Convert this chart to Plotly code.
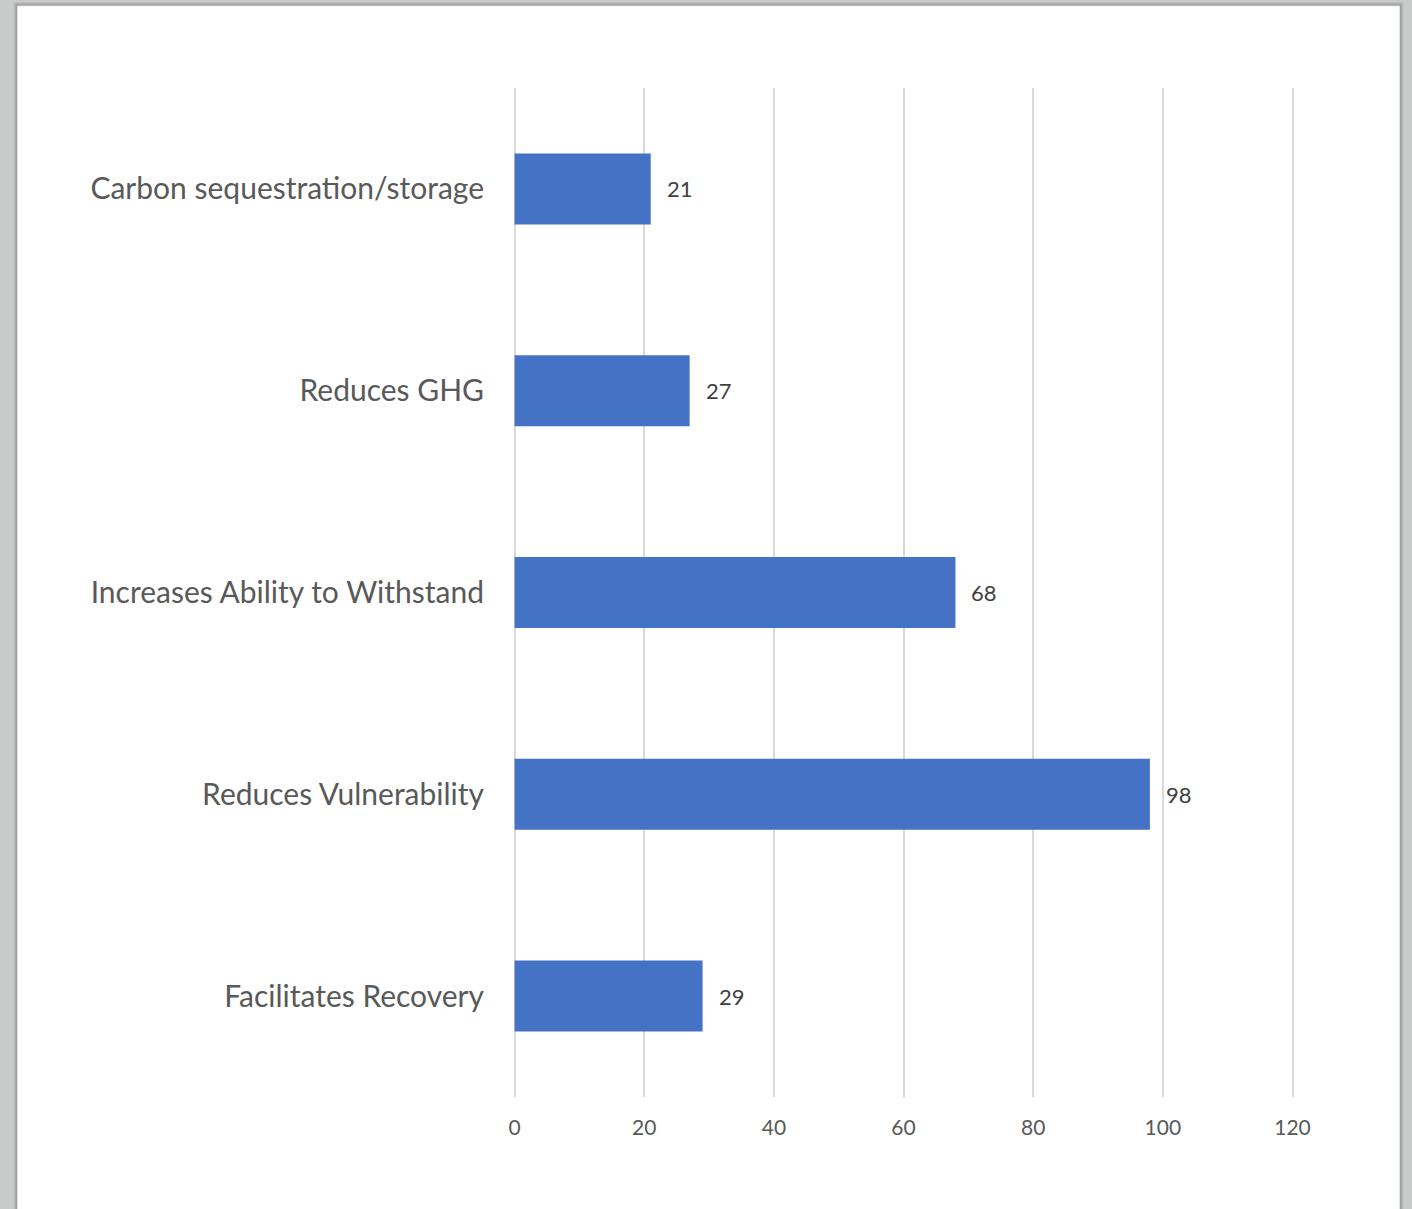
import plotly.graph_objects as go

categories = ["Carbon sequestration/storage", "Reduces GHG", "Increases Ability to Withstand",
              "Reduces Vulnerability", "Facilitates Recovery"]
values = [21, 27, 68, 98, 29]
x_ticks = [0, 20, 40, 60, 80, 100, 120]
x_min, x_max = -0.4, 121

W, H = 1412, 1209
scale = (1293 - 515) / 120  # px per unit
L = 515 + x_min * scale
R = 515 + x_max * scale
T, B = 88, 1097
pw, ph = R - L, B - T

def px(xp):
    return (xp - L) / pw

def py(yp):
    return (B - yp) / ph

fig = go.Figure()
fig.add_trace(go.Bar(
    y=categories, x=values, orientation="h",
    marker=dict(color="#4472c4", line=dict(width=0)),
    hoverinfo="x+y",
))

for c, v in zip(categories, values):
    fig.add_annotation(x=v, y=c, text=str(v), showarrow=False, xanchor="left",
                       xshift=14, font=dict(family="Lato", size=22, color="#404040"))

shapes = []
for i, col in enumerate(["#bdbebe", "#b0b1b1", "#a3a4a4", "#979898"]):
    d = 4 - i
    shapes.append(dict(type="rect", xref="paper", yref="paper",
                       x0=px(18 - d), x1=px(1400 + d), y0=py(1230), y1=py(6 - d),
                       fillcolor=col, line=dict(width=0), layer="below"))
shapes.append(dict(type="rect", xref="paper", yref="paper",
                   x0=px(18), x1=px(1400), y0=py(1230), y1=py(6),
                   fillcolor="#ffffff", line=dict(width=1, color="#e6e6e6"), layer="below"))

fig.update_layout(
    width=W, height=H,
    margin=dict(l=L, r=W - R, t=T, b=H - B, pad=0),
    paper_bgcolor="#c9caca",
    plot_bgcolor="rgba(0,0,0,0)",
    shapes=shapes,
    showlegend=False,
    bargap=0.648,
    xaxis=dict(range=[x_min, x_max], tickvals=x_ticks, showgrid=True, gridcolor="#d9d9d9",
               gridwidth=2, zeroline=False, showline=False, ticks="",
               ticklabelstandoff=16,
               tickfont=dict(family="Lato", size=21, color="#595959")),
    yaxis=dict(autorange="reversed", showgrid=False, zeroline=False, showline=False,
               ticks="", ticklabelstandoff=27,
               tickfont=dict(family="Lato", size=30, color="#595959")),
)

fig.write_html("out.html", config={"displayModeBar": False},
               post_script="document.body.style.margin='0';document.body.style.overflow='hidden';")
